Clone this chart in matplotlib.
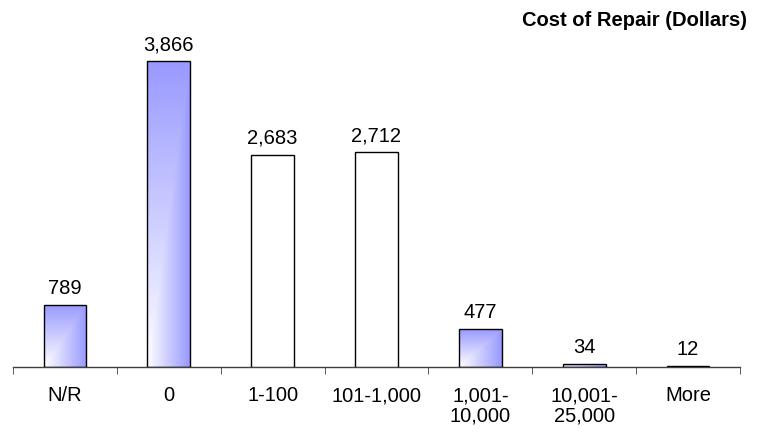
import numpy as np
import matplotlib
matplotlib.use('Agg')
import matplotlib.pyplot as plt
from matplotlib.colors import LinearSegmentedColormap

plt.rcParams['font.family'] = ['Liberation Sans', 'DejaVu Sans']

# data
categories = ['N/R', '0', '1-100', '101-1,000', '1,001-\n10,000', '10,001-\n25,000', 'More']
values = [789, 3866, 2683, 2712, 477, 34, 12]
gradient_fill = [True, True, False, False, True, True, True]
title = 'Cost of Repair (Dollars)'

fig = plt.figure(figsize=(7.64, 4.34), dpi=100)
ax = fig.add_axes([13 / 764, 67 / 434, 727 / 764, 337 / 434])

x = np.arange(len(categories))
bars = ax.bar(x, values, width=0.41, color='white', edgecolor='black',
              linewidth=1.0, zorder=3)

# white -> blue corner gradient
cmap = LinearSegmentedColormap.from_list('wb', ['#ffffff', '#9999ff'])
u = np.linspace(0, 1, 60)
v = np.linspace(0, 1, 200)
U, V = np.meshgrid(u, v)
grad = np.maximum(U, V)

for bar, g in zip(bars, gradient_fill):
    if not g:
        continue
    bar.set_facecolor('none')
    x0 = bar.get_x()
    x1 = x0 + bar.get_width()
    h = bar.get_height()
    im = ax.imshow(grad, cmap=cmap, origin='lower', extent=[x0, x1, 0, h],
                   aspect='auto', zorder=2, vmin=0, vmax=1)
    im.set_clip_path(bar)

for bar, val in zip(bars, values):
    ax.annotate(f'{val:,}', (bar.get_x() + bar.get_width() / 2, val),
                xytext=(0, 5), textcoords='offset points',
                ha='center', va='bottom', fontsize=14.5)

ax.set_xlim(-0.5, len(categories) - 0.5)
ax.set_ylim(0, 3866 * 337 / 306)

for s in ['top', 'left', 'right']:
    ax.spines[s].set_visible(False)
ax.spines['bottom'].set_color('#404040')
ax.spines['bottom'].set_linewidth(1.0)
ax.set_yticks([])

ax.set_xticks(x)
ax.set_xticklabels(categories, fontsize=14.5, linespacing=1.05)
ax.tick_params(axis='x', which='major', length=0, pad=14)
ax.set_xticks(np.arange(-0.5, len(categories)), minor=True)
ax.tick_params(axis='x', which='minor', length=5, direction='out', color='#404040')

fig.text(747 / 764, 1 - 20 / 434, title, ha='right', va='center',
         fontsize=14.5, fontweight='bold')

fig.savefig('out.png', dpi=100)
